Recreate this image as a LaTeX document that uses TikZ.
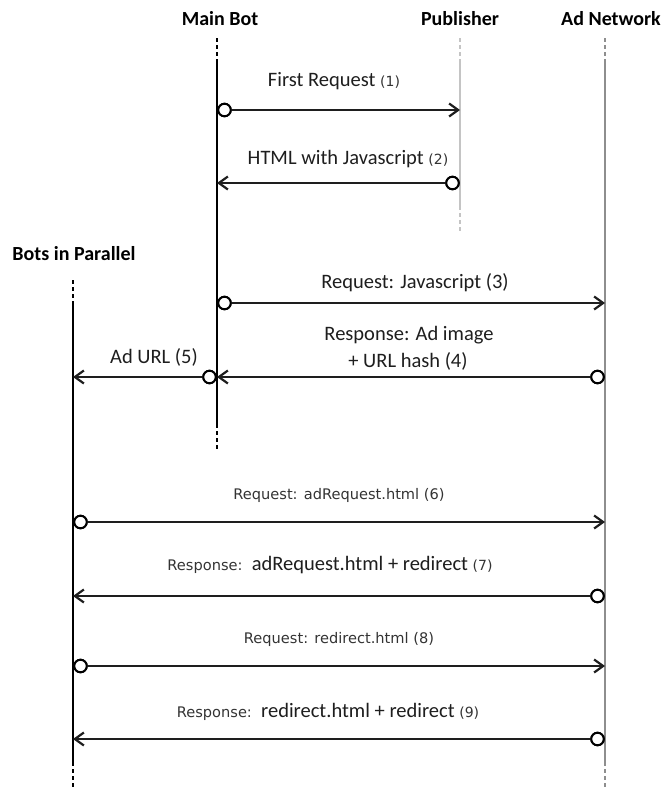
\documentclass[tikz,border=0pt]{standalone}
\usepackage{fontspec}
\setmainfont{Carlito}
\newfontfamily\dvsans{DejaVu Sans}
\usetikzlibrary{calc,arrows.meta}

\definecolor{ink}{HTML}{1E1E1E}
\definecolor{pubgray}{HTML}{C4C4C4}
\definecolor{netgray}{HTML}{8E8E8E}
\definecolor{soft}{HTML}{333333}

\begin{document}
\begin{tikzpicture}[x=1pt,y=-1pt,
  head/.style={font=\fontsize{20}{24}\selectfont\bfseries, text=black, anchor=base, inner sep=0pt},
  lbl/.style={font=\fontsize{20.5}{24}\selectfont, text=ink, anchor=base, inner sep=0pt},
  life/.style={line width=2.3pt, draw=black},
  lifedash/.style={life, dash pattern=on 4pt off 3pt},
  publife/.style={line width=2pt, draw=pubgray},
  pubdash/.style={publife, dash pattern=on 4pt off 3pt},
  netlife/.style={line width=2.3pt, draw=netgray},
  netdash/.style={netlife, dash pattern=on 4pt off 3pt},
  msg/.style={line width=2.2pt, draw=ink, -{Straight Barb[length=9pt,width=13pt,line width=2.2pt]}},
  port/.style={circle, draw=black, fill=white, line width=2pt, minimum size=12.5pt, inner sep=0pt},
]
\useasboundingbox (0,0) rectangle (664,787);

% small helpers for the step numbers and the plain prefix words
\def\stepno#1{{\dvsans\fontsize{14}{16}\selectfont\color{soft}(#1)}}
\def\plainword#1{{\dvsans\fontsize{14.6}{18}\selectfont\color{soft}#1}}

% ---- participant headings
\node[head] (hMain) at (220,25) {Main Bot};
\node[head] (hPub) at (460,25) {Publisher};
\node[head] (hNet) at (611,25) {Ad Network};
\node[head] (hBots) at (74,260) {Bots in Parallel};

% ---- lifelines
\coordinate (mbA) at (217,38);  \coordinate (mbB) at (217,62);
\coordinate (mbC) at (217,424); \coordinate (mbD) at (217,450);
\draw[lifedash] (mbA) -- (mbB);
\draw[life] (mbB) -- (mbC);
\draw[lifedash] (mbC) -- (mbD);

\coordinate (pbA) at (460,38);  \coordinate (pbB) at (460,62);
\coordinate (pbC) at (460,206); \coordinate (pbD) at (460,232);
\draw[pubdash] (pbA) -- (pbB);
\draw[publife] (pbB) -- (pbC);
\draw[pubdash] (pbC) -- (pbD);

\coordinate (anA) at (605,38);  \coordinate (anB) at (605,62);
\coordinate (anC) at (605,762); \coordinate (anD) at (605,787);
\draw[netdash] (anA) -- (anB);
\draw[netlife] (anB) -- (anC);
\draw[netdash] (anC) -- (anD);

\coordinate (bpA) at (73,280);  \coordinate (bpB) at (73,301);
\coordinate (bpC) at (73,762);  \coordinate (bpD) at (73,787);
\draw[lifedash] (bpA) -- (bpB);
\draw[life] (bpB) -- (bpC);
\draw[lifedash] (bpC) -- (bpD);

% ---- message end points on the lifelines
\coordinate (p1) at (460,110);
\coordinate (m2) at (217,183);
\coordinate (a3) at (605,303);
\coordinate (m4) at (217,377);
\coordinate (b5) at (73,377);
\coordinate (a6) at (605,522);
\coordinate (b7) at (73,596);
\coordinate (a8) at (605,666);
\coordinate (b9) at (73,739);

% ---- message origins
\node[port] (o1) at (224.5,110) {};
\node[port] (o2) at (452.5,183) {};
\node[port] (o3) at (224.5,303) {};
\node[port] (o4) at (597.5,377) {};
\node[port] (o5) at (209.5,377) {};
\node[port] (o6) at (80.5,522) {};
\node[port] (o7) at (597.5,596) {};
\node[port] (o8) at (80.5,666) {};
\node[port] (o9) at (597.5,739) {};

% ---- messages
\draw[msg] (o1) -- (p1);
\draw[msg] (o2) -- (m2);
\draw[msg] (o3) -- (a3);
\draw[msg] (o4) -- (m4);
\draw[msg] (o5) -- (b5);
\draw[msg] (o6) -- (a6);
\draw[msg] (o7) -- (b7);
\draw[msg] (o8) -- (a8);
\draw[msg] (o9) -- (b9);

% redraw the ports on top of the lines
\foreach \o in {o1,o2,o3,o4,o5,o6,o7,o8,o9}
  \node[port] at (\o) {};

% ---- message labels
\node[lbl] (t1) at (334,86) {First Request \stepno{1}};
\node[lbl] (t2) at (348,164) {HTML with Javascript \stepno{2}};
\node[lbl] (t3) at (415,288) {Request: Javascript (3)};
\node[lbl] (t4a) at (409,340) {Response: Ad image};
\node[lbl] (t4b) at (408,367) {+ URL hash (4)};
\node[lbl] (t5) at (154,363) {Ad URL (5)};
\node[lbl] (t6) at (339,499) {\plainword{Request: adRequest.html (6)}};
\node[lbl] (t7) at (330,570) {\plainword{Response:\ \ }adRequest.html + redirect \stepno{7}};
\node[lbl] (t8) at (339,643) {\plainword{Request: redirect.html (8)}};
\node[lbl] (t9) at (328,717) {\plainword{Response:\ \ }redirect.html + redirect \stepno{9}};
\end{tikzpicture}
\end{document}
